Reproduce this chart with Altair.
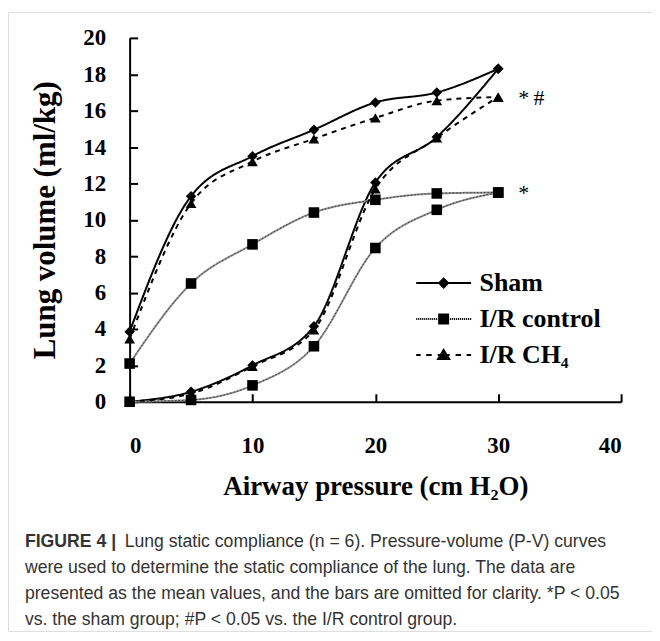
import altair as alt
import pandas as pd

# ---------------- data ----------------
pressure = [0, 5, 10, 15, 20, 25, 30]
sham_inflation = [0.0, 0.55, 2.0, 4.15, 12.05, 14.55, 18.3]
sham_deflation = [3.85, 11.3, 13.5, 14.95, 16.45, 17.0, 18.3]
control_inflation = [0.0, 0.1, 0.9, 3.05, 8.45, 10.55, 11.5]
control_deflation = [2.1, 6.5, 8.65, 10.4, 11.1, 11.45, 11.5]
ch4_inflation = [0.0, 0.45, 1.95, 3.95, 11.7, 14.5, 16.75]
ch4_deflation = [3.45, 10.9, 13.2, 14.45, 15.6, 16.55, 16.75]
series_names = ["Sham", "I/R control", "I/R CH₄"]

ann_series = ["I/R CH₄", "I/R control"]
ann_text = ["*\u2009#", "*"]

x_ticks = [0, 10, 20, 30, 40]
y_ticks = [0, 2, 4, 6, 8, 10, 12, 14, 16, 18, 20]

caption_bold = "FIGURE 4 |"
caption_lines = [
    "Lung static compliance (n = 6). Pressure-volume (P-V) curves",
    "were used to determine the static compliance of the lung. The data are",
    "presented as the mean values, and the bars are omitted for clarity. *P < 0.05",
    "vs. the sham group; #P < 0.05 vs. the I/R control group.",
]

# ---------------- table ----------------
rows = []
for name, infl, defl in [
    (series_names[0], sham_inflation, sham_deflation),
    (series_names[1], control_inflation, control_deflation),
    (series_names[2], ch4_inflation, ch4_deflation),
]:
    for p, v in zip(pressure, infl):
        rows.append({"pressure": p, "volume": v, "series": name, "limb": "inflation"})
    for p, v in zip(pressure, defl):
        rows.append({"pressure": p, "volume": v, "series": name, "limb": "deflation"})
df = pd.DataFrame(rows)

ends = {name: defl[-1] for name, defl in zip(series_names, [sham_deflation, control_deflation, ch4_deflation])}
ann_df = pd.DataFrame({
    "pressure": [pressure[-1]] * len(ann_series),
    "volume": [ends[s] for s in ann_series],
    "label": ann_text,
})

# ---------------- layout ----------------
W, H = 646, 621          # whole bordered box
X0, X1 = 122, 615        # plot x range inside the box
Y0, Y1 = 391, 26         # plot y range inside the box
SERIF = "Liberation Serif"
SANS = "Liberation Sans"

xscale = alt.Scale(domain=[0, 40], range=[X0, X1], nice=False, zero=False)
yscale = alt.Scale(domain=[0, 20], range=[Y0, Y1], nice=False, zero=False)

x_axis_main = alt.Axis(
    orient="bottom", offset=-(H - Y0), values=x_ticks, tickSize=0, grid=False,
    domainColor="black", domainWidth=2,
    labelFont=SERIF, labelFontWeight="bold", labelFontSize=23, labelColor="black",
    labelPadding=33, labelOverlap=False,
    title="Airway pressure (cm H₂O)", titleFont=SERIF, titleFontSize=27,
    titleFontWeight="bold", titleColor="black", titlePadding=16,
)
y_axis_main = alt.Axis(
    orient="left", offset=-X0, values=y_ticks, tickSize=0, grid=False,
    domainColor="black", domainWidth=2,
    labelFont=SERIF, labelFontWeight="bold", labelFontSize=23, labelColor="black",
    labelPadding=24, labelOverlap=False,
    title="Lung volume (ml/kg)", titleFont=SERIF, titleFontSize=31,
    titleFontWeight="bold", titleColor="black", titlePadding=21,
)


# legend symbols: a short line with a solid marker in its middle (drawn with strokes only)
def _poly(pts):
    return "M" + "L".join("{:.3f},{:.3f}".format(x, y) for x, y in pts) + "Z"


_levels = [1.0, 0.78, 0.56, 0.34, 0.12]
_diamond = "".join(_poly([(0, -0.45 * s), (0.45 * s, 0), (0, 0.45 * s), (-0.45 * s, 0)]) for s in _levels)
_square = "".join(_poly([(-0.45 * s, -0.45 * s), (0.45 * s, -0.45 * s), (0.45 * s, 0.45 * s), (-0.45 * s, 0.45 * s)]) for s in _levels)
_tri_c = 0.12
_triangle = "".join(
    _poly([(0, _tri_c + (-0.5 - _tri_c) * s), (0.55 * s, _tri_c + (0.42 - _tri_c) * s), (-0.55 * s, _tri_c + (0.42 - _tri_c) * s)])
    for s in _levels
)
_dots = "".join("M{:.2f},0L{:.2f},0".format(-2.75 + 0.2 * k, -2.64 + 0.2 * k) for k in range(28))
_dashes = "M-2.75,0L-2.3,0M-1.75,0L-1.2,0M-0.6,0L0.6,0M1.2,0L1.75,0M2.3,0L2.75,0"
legend_paths = [
    "M-2.75,0L2.75,0" + _diamond,
    _dots + _square,
    _dashes + _triangle,
]

legend = alt.Legend(
    orient="none", legendX=424, legendY=259, title=None, padding=0,
    symbolSize=400, symbolStrokeWidth=2, symbolOpacity=1,
    labelFont=SERIF, labelFontSize=26, labelFontWeight="bold", labelColor="black",
    labelOffset=23, rowPadding=10,
)

color_scale = alt.Scale(domain=series_names, range=["black", "#8f8f8f", "black"])
dash_scale = alt.Scale(domain=series_names, range=[[1, 0], [1, 0], [5, 5]])

lines = alt.Chart(df).mark_line(interpolate="monotone", strokeWidth=2).encode(
    x=alt.X("pressure:Q", scale=xscale, axis=x_axis_main),
    y=alt.Y("volume:Q", scale=yscale, axis=y_axis_main),
    stroke=alt.Stroke("series:N", scale=color_scale, legend=None),
    strokeDash=alt.StrokeDash("series:N", scale=dash_scale, legend=None),
    detail="limb:N",
)

texture = alt.Chart(df).transform_filter(
    alt.datum.series == series_names[1]
).mark_line(interpolate="monotone", strokeWidth=1, stroke="#3a3a3a", strokeDash=[1.5, 2]).encode(
    x=alt.X("pressure:Q", scale=xscale, axis=None),
    y=alt.Y("volume:Q", scale=yscale, axis=None),
    detail="limb:N",
)

points = alt.Chart(df).mark_point(filled=True, opacity=1, color="black").encode(
    x=alt.X("pressure:Q", scale=xscale, axis=None),
    y=alt.Y("volume:Q", scale=yscale, axis=None),
    shape=alt.Shape("series:N", scale=alt.Scale(domain=series_names, range=["diamond", "square", "triangle-up"]), legend=None),
    size=alt.Size("series:N", scale=alt.Scale(domain=series_names, range=[110, 115, 120]), legend=None),
)

legend_layer = alt.Chart(df).mark_point(
    filled=False, opacity=0, color="black", strokeWidth=2
).encode(
    x=alt.X("pressure:Q", scale=xscale, axis=None),
    y=alt.Y("volume:Q", scale=yscale, axis=None),
    shape=alt.Shape("series:N", scale=alt.Scale(domain=series_names, range=legend_paths), legend=legend),
)

ticks = alt.Chart(df).mark_point(opacity=0).encode(
    x=alt.X("pressure:Q", scale=xscale, axis=alt.Axis(
        orient="top", offset=-Y0, values=x_ticks, tickSize=8, tickWidth=2, tickColor="black",
        labels=False, domain=False, grid=False, title=None)),
    y=alt.Y("volume:Q", scale=yscale, axis=alt.Axis(
        orient="right", offset=-(W - X0), values=y_ticks, tickSize=8, tickWidth=2, tickColor="black",
        labels=False, domain=False, grid=False, title=None)),
)

annotations = alt.Chart(ann_df).mark_text(
    font=SERIF, fontSize=22, align="left", baseline="middle", dx=20, dy=1, color="black"
).encode(
    x=alt.X("pressure:Q", scale=xscale, axis=None),
    y=alt.Y("volume:Q", scale=yscale, axis=None),
    text="label:N",
)

CAP_X = 17
CAP_Y0 = 532
CAP_DY = 26
CAP_SIZE = 17.7
caption_layers = [
    alt.Chart(pd.DataFrame({"t": [caption_bold]})).mark_text(
        font=SANS, fontSize=CAP_SIZE, fontWeight="bold", align="left", baseline="middle", color="#333333"
    ).encode(x=alt.value(CAP_X), y=alt.value(CAP_Y0), text="t:N")
]
for i, line in enumerate(caption_lines):
    caption_layers.append(
        alt.Chart(pd.DataFrame({"t": [line]})).mark_text(
            font=SANS, fontSize=CAP_SIZE, align="left", baseline="middle", color="#333333"
        ).encode(x=alt.value(CAP_X + (100 if i == 0 else 0)), y=alt.value(CAP_Y0 + i * CAP_DY), text="t:N")
    )

chart = alt.layer(lines, texture, points, legend_layer, ticks, annotations, *caption_layers).resolve_axis(
    x="independent", y="independent"
).resolve_scale(shape="independent").properties(
    width=W, height=H,
    autosize=alt.AutoSizeParams(type="none"),
    padding={"left": 0, "top": 3, "right": 0, "bottom": 0},
).configure_view(
    stroke="#4a4a4a", strokeWidth=1.3
).configure(background="white")

chart.save("out.html", embed_options={"renderer": "svg", "actions": False})
